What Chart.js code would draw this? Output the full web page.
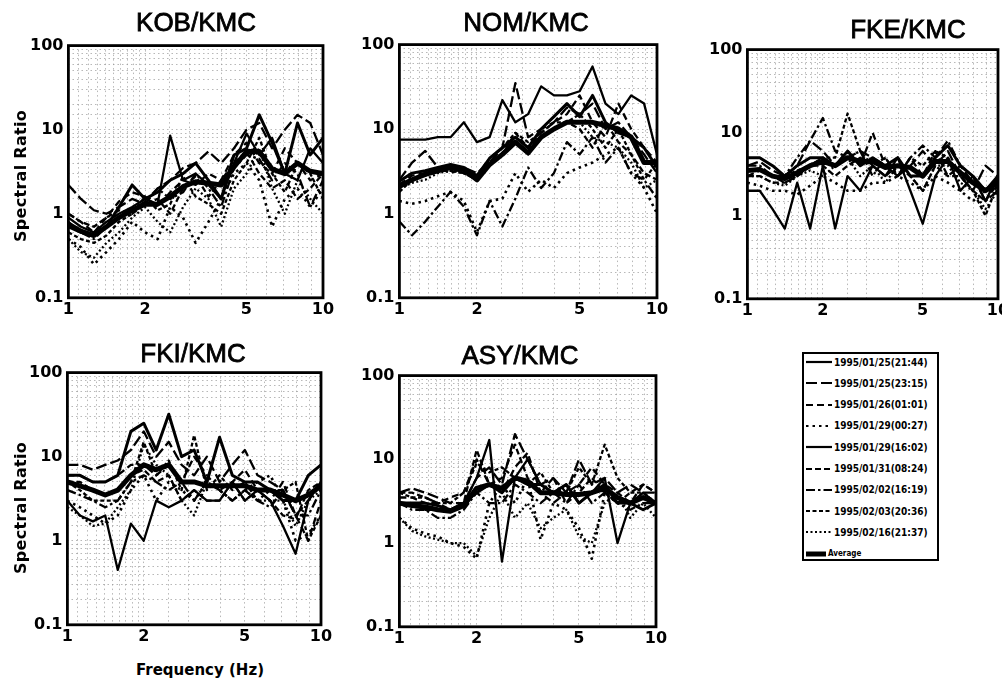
<!DOCTYPE html>
<html><head><meta charset="utf-8">
<script src="https://cdn.jsdelivr.net/npm/chart.js@4.4.1/dist/chart.umd.min.js"></script>
<style>
html,body{margin:0;padding:0;background:#fff}
body{width:1002px;height:683px;overflow:hidden;position:relative;font-family:'Liberation Sans',Arial,sans-serif;color:#000}
.wrap{position:absolute}
.title{position:absolute;font-size:26px;transform:translate(-50%,-50%);white-space:nowrap;-webkit-text-stroke:0.8px #000}
.ylab{position:absolute;font:bold 16px 'DejaVu Sans',sans-serif;transform:translate(-50%,-50%) rotate(-90deg);white-space:nowrap;letter-spacing:0.3px}
.xlab{position:absolute;font:bold 15px 'DejaVu Sans',sans-serif;transform:translate(-50%,-50%);white-space:nowrap}
#legend{position:absolute;left:802px;top:352px;width:133px;height:205px;border:2px solid #000;background:#fff}
.lrow{position:absolute;left:2px;height:12px;display:flex;align-items:center;font:bold 10px 'DejaVu Sans Condensed','DejaVu Sans',sans-serif;white-space:nowrap}
.lrow svg{margin-right:2px}
</style>
</head><body>
<div id="legend"></div>
<script>
// ---- data ----
const freq = [1, 1.12, 1.26, 1.41, 1.58, 1.78, 2.0, 2.24, 2.51, 2.82, 3.16, 3.55, 3.98, 4.47, 5.01, 5.62, 6.31, 7.08, 7.94, 8.91, 10];
const eventLabels = ['1995/01/25(21:44)', '1995/01/25(23:15)', '1995/01/26(01:01)', '1995/01/29(00:27)', '1995/01/29(16:02)', '1995/01/31(08:24)', '1995/02/02(16:19)', '1995/02/03(20:36)', '1995/02/16(21:37)', 'Average'];
const xTickLabels = [1, 2, 5, 10];
const yTickLabels = [0.1, 1, 10, 100];

const kobSeries = [
  [0.9,0.7,0.6,0.8,1.0,1.2,1.5,1.3,8.5,2.5,3,2.2,1.5,4,9,5,8,3,2.5,6,4],
  [2.2,1.5,1.1,1.0,1.2,1.5,1.3,2,2.5,3.5,4,5.5,4,6,10,12,6,10,15,12,5],
  [1.0,0.8,0.6,0.9,1.4,1.8,1.6,1.2,1.8,2.5,2.2,3,2.5,5,7,4,3,6,4,2.5,3],
  [0.5,0.4,0.25,0.35,0.5,0.8,0.6,0.5,1.2,0.9,0.45,0.8,1.5,3,4,2.5,0.7,1.5,2,1.2,2],
  [0.7,0.6,0.55,0.7,1.2,2.2,1.5,1.8,2.5,3,4,2.5,1.5,5,6,15,7,3,12,5,8],
  [1.0,0.8,0.7,0.9,1.1,1.0,1.3,1.5,1.0,2,2.8,1.6,2.5,4,5.5,3,2,2.5,1.5,2,3],
  [0.8,0.6,0.5,0.7,0.9,1.1,1.4,2,1.5,1.8,3,2,1.2,3.5,5,4.5,2.5,4,3,1.2,2.5],
  [0.6,0.5,0.45,0.55,0.8,1.0,1.6,1.1,1.3,2.8,1.6,1.3,1.0,2.5,4,8,3,1.8,4,3,1.5],
  [0.5,0.35,0.3,0.45,0.6,0.9,1.2,0.8,0.6,1.2,2,1.5,0.7,2,3,6,2,1,2.5,1.5,1],
  [0.75,0.62,0.55,0.7,0.9,1.1,1.3,1.3,1.6,2.1,2.4,2.3,2.2,3.6,5.5,5.5,3.4,3,4,3.2,3]
];
const nomSeries = [
  [7.5,7.5,7.5,8,8,12,7,8,22,12,15,32,25,25,28,55,20,15,25,20,5],
  [2.5,4,5.5,3.5,3,3.5,3,4,6,35,8,10,12,18,15,20,10,12,8,5,3],
  [2.2,2.8,3,3.5,3.5,3,2.5,4,5,8,6,9,12,15,25,12,8,20,10,6,4],
  [1.4,1.3,1.4,1.6,1.8,1.4,0.6,1.4,1.5,3,1.8,2.5,2,3,3.5,4,5,6,3,2,1],
  [2.4,3,3.2,3.5,3.8,3.5,2.8,4.5,6,8,6,10,14,20,14,25,12,9,8,6,3.5],
  [2,2.5,2.8,3.2,3.2,3,2.5,4,5,9,6,8,10,12,10,6,12,7,5,3,2.5],
  [0.8,0.55,0.8,1.2,1.8,1.2,0.55,1.4,0.7,1.5,3.5,2,3,7,5,8,4,6,3,2.5,1.5],
  [1.8,2.5,3,3.2,3.5,3,2.8,4.5,6,9,7,9,12,12,15,10,6,10,5,2.5,4],
  [2,2.3,2.5,3,3.2,3,2.6,4,5,7,5,8,10,12,12,8,7,6,4,2,2.5],
  [2.1,2.5,2.9,3.2,3.5,3.3,2.5,3.8,5,7,5.2,8,10,12,12,12,11,10,8,4,4]
];
const fkeSeries = [
  [2,2,1.2,0.7,2.5,0.7,4,0.7,3,2,4,3,5,2,0.8,3,5,2,3,1.5,3],
  [4,4.5,3.5,3,4,8,6,4,5,6,5,4,3,4,6,4,6,3,2,4,3],
  [3,3.5,3,2.5,3,4,5,4,6,4,10,4,3,5,3,6,3,4,2.5,2,2.5],
  [2.5,2.3,2,2,1.8,2.3,3,2.5,2,2,2.5,2.5,3,2.5,2,3,2.5,2,1.5,2,2],
  [5,5,4,3,4,5,5,4,6,4,5,4,5,3,3,5,7,4,3,2,3],
  [3,3,2.5,2.5,3,4,4,3,4,5,4,3,4,3,2,4,3,3,2,1.5,2.5],
  [4,4,3,3,5,8,15,6,5,6,3,5,3,5,7,5,8,4,3,1.5,2],
  [3.5,3.5,3,3,3.5,4,5,5,17,6,4,5,3,5,4,6,5,3,2,1,2.5],
  [3,3,2.5,2.3,3,3.5,3,4,5,3,4,2.5,4,3,2,4,4,2.5,2,1.2,2],
  [3.5,3.6,3,2.8,3.3,4,4.5,4,5,4.5,4.5,3.8,4,3.8,3,4.5,4.5,3.3,2.5,2,2.5]
];
const fkiSeries = [
  [3,2,1.7,2,0.45,1.6,1,3,2.5,3,4,3,3,5,3,4,3,1.5,0.7,3,5],
  [8,8,7,8,9,12,20,10,15,8,6,10,5,8,12,6,5,4,2,3,5],
  [6,6,5,5,6,8,8,6,8,5,10,6,4,5,7,4,3,5,2,1,3],
  [3,2.5,2,1.6,2,4,6,3,5,4,3,5,4,3,4,5,6,3,1,1.2,2],
  [6,6,5,5,6,20,25,12,32,10,12,5,17,6,5,5,4,3,3,6,8],
  [5,5,4,3.5,4,6,7,5,6,3,4,3,3,5,3,4,3,2,1.8,4,5],
  [4,3.5,3,2.5,3,5,6,5,4,5,3,5,4,3,4,3,2.5,4,2,2,4],
  [5,4,3,3,3,5,15,6,9,4,18,4,6,4,5,3,4,4,5,1,2],
  [2.5,2,1.5,1.6,2.5,4,14,8,6,3,2,5,4,3,4,3,3,3,1.5,3,4],
  [5,4.5,4,3.5,4,6,8,7,8,5,5,4.5,4.5,4.5,4.5,4,4,3.5,3,3.5,4.5]
];
const asySeries = [
  [3,3,2.5,2.5,2.5,3,6,17,0.6,6,10,5,4,5,3,4,6,1,3,4,3],
  [4,4.5,4,3.5,3,3,6,8,5,20,10,5,6,4,10,5,6,4,5,4,4],
  [3.5,3.5,3,3,3.5,4,10,5,4,8,12,4,3,4,5,8,5,4,3,5,4],
  [2,1.5,1.3,1.2,1,0.9,0.65,3,5,3,6,1.1,3,2.5,1.5,0.65,4,3,3,4,3],
  [3,3,3,2.8,2.5,3,4,5,4,6,5,5,4,5,3,4,5,3,3,2.5,3],
  [4,4,3.5,3,2.5,3,13,5,6,15,6,4,6,3,4,6,4,3,4,5,4],
  [3,2.5,2.5,2,2,2.5,4,3,3,5,4,3,4,3,5,3,4,3,2.5,3,3],
  [4,3.5,3.5,3,3,4,9,7,8,6,5,7,4,4,8,5,15,6,4,4,3],
  [2,1.4,1.2,1.1,1,1,0.7,2,4,2,3,1.5,2,2.5,1.2,1,3,4,2,3,2],
  [3,2.8,2.7,2.5,2.4,2.8,4.5,5,4.5,6,5.5,4,4,3.8,3.8,4,4.5,3.5,3,3.5,3]
];

// ---- styles ----
const lineDashes = [[], [11,4], [7,4], [2.5,4], [], [6,3], [9,3,2.5,3], [4,2.5], [2,2.5], []];
const lineWidths = [2.3, 2.3, 2.3, 2.6, 3.0, 2.3, 2.3, 2.3, 2.3, 5];

// ---- layout ----
const panels = [
  {name:'KOB/KMC', series:kobSeries, box:[68,46,323,298], title:[196,22]},
  {name:'NOM/KMC', series:nomSeries, box:[399,45,657,298], title:[526,22]},
  {name:'FKE/KMC', series:fkeSeries, box:[747,50,998,299], title:[908,29]},
  {name:'FKI/KMC', series:fkiSeries, box:[67,373,321,625], title:[193,353]},
  {name:'ASY/KMC', series:asySeries, box:[399,376,656,627], title:[520,355]}
];

const near = (v, list) => list.some(t => Math.abs(v - t) / t < 1e-6);

const framePlugin = {
  id: 'frame',
  afterDraw(chart) {
    const {ctx, chartArea: a} = chart;
    ctx.save();
    ctx.strokeStyle = '#000';
    ctx.lineWidth = 2.8;
    ctx.strokeRect(a.left, a.top, a.right - a.left, a.bottom - a.top);
    ctx.restore();
  }
};

function addText(cls, text, x, y) {
  const d = document.createElement('div');
  d.className = cls; d.textContent = text;
  d.style.left = x + 'px'; d.style.top = y + 'px';
  document.body.appendChild(d);
}

panels.forEach(p => {
  const [l, t, r, b] = p.box;
  const wrap = document.createElement('div');
  wrap.className = 'wrap';
  wrap.style.width = (r - l + 60) + 'px';
  wrap.style.height = (b - t + 40) + 'px';
  wrap.style.left = (l - 50) + 'px';
  wrap.style.top = (t - 10) + 'px';
  const cv = document.createElement('canvas');
  wrap.appendChild(cv);
  document.body.appendChild(wrap);

  const datasets = p.series.map((vals, i) => ({
    label: eventLabels[i],
    data: freq.map((f, k) => ({x: f, y: vals[k]})),
    borderColor: '#000',
    borderWidth: lineWidths[i],
    borderDash: lineDashes[i],
    borderJoinStyle: 'round',
    pointRadius: 0,
    fill: false,
    tension: 0
  }));

  const gridOpts = {color: '#9a9a9a', lineWidth: 0.7, drawTicks: false};
  const tickFont = {family: "'DejaVu Sans', sans-serif", size: 16, weight: 'bold'};

  const chart = new Chart(cv, {
    type: 'line',
    data: {datasets},
    options: {
      responsive: true,
      maintainAspectRatio: false,
      animation: false,
      events: [],
      layout: {padding: {top: 10, right: 14, left: 0, bottom: 0}},
      plugins: {legend: {display: false}, tooltip: {enabled: false}},
      scales: {
        x: {
          type: 'logarithmic', min: 1, max: 10,
          grid: gridOpts,
          border: {display: false, dash: [1.5, 3]},
          ticks: {
            autoSkip: false, maxRotation: 0, padding: 2, color: '#000', font: tickFont,
            callback: v => near(v, xTickLabels) ? String(v) : ''
          }
        },
        y: {
          type: 'logarithmic', min: 0.1, max: 100,
          grid: gridOpts,
          border: {display: false, dash: [1.5, 3]},
          ticks: {
            autoSkip: false, padding: 5, color: '#000', font: tickFont,
            callback: v => near(v, yTickLabels) ? String(+v.toPrecision(3)) : ''
          }
        }
      }
    },
    plugins: [framePlugin]
  });

  // align chart area onto the panel box
  for (let it = 0; it < 2; it++) {
    const ca = chart.chartArea;
    const W = wrap.clientWidth + ((r - l) - (ca.right - ca.left));
    const H = wrap.clientHeight + ((b - t) - (ca.bottom - ca.top));
    wrap.style.width = W + 'px';
    wrap.style.height = H + 'px';
    chart.resize();
  }
  const ca = chart.chartArea;
  wrap.style.left = (l - ca.left) + 'px';
  wrap.style.top = (t - ca.top) + 'px';

  addText('title', p.name, p.title[0], p.title[1]);
});

addText('ylab', 'Spectral Ratio', 20, 176);
addText('ylab', 'Spectral Ratio', 20, 508);
addText('xlab', 'Frequency (Hz)', 200, 670);

// legend
const legend = document.getElementById('legend');
eventLabels.forEach((lab, i) => {
  const row = document.createElement('div');
  row.className = 'lrow';
  row.style.top = (2 + i * 21.3) + 'px';
  const isAvg = i === eventLabels.length - 1;
  const w = isAvg ? 20 : 26;
  const svgNS = 'http://www.w3.org/2000/svg';
  const svg = document.createElementNS(svgNS, 'svg');
  svg.setAttribute('width', w); svg.setAttribute('height', 12);
  const ln = document.createElementNS(svgNS, 'line');
  ln.setAttribute('x1', 0); ln.setAttribute('x2', w);
  ln.setAttribute('y1', 6); ln.setAttribute('y2', 6);
  ln.setAttribute('stroke', '#000');
  ln.setAttribute('stroke-width', isAvg ? 5 : Math.min(lineWidths[i], 2.2));
  if (lineDashes[i].length) ln.setAttribute('stroke-dasharray', lineDashes[i].join(' '));
  svg.appendChild(ln);
  row.appendChild(svg);
  const sp = document.createElement('span');
  sp.textContent = lab;
  if (isAvg) sp.style.fontSize = '8px';
  row.appendChild(sp);
  legend.appendChild(row);
});
</script>
</body></html>
